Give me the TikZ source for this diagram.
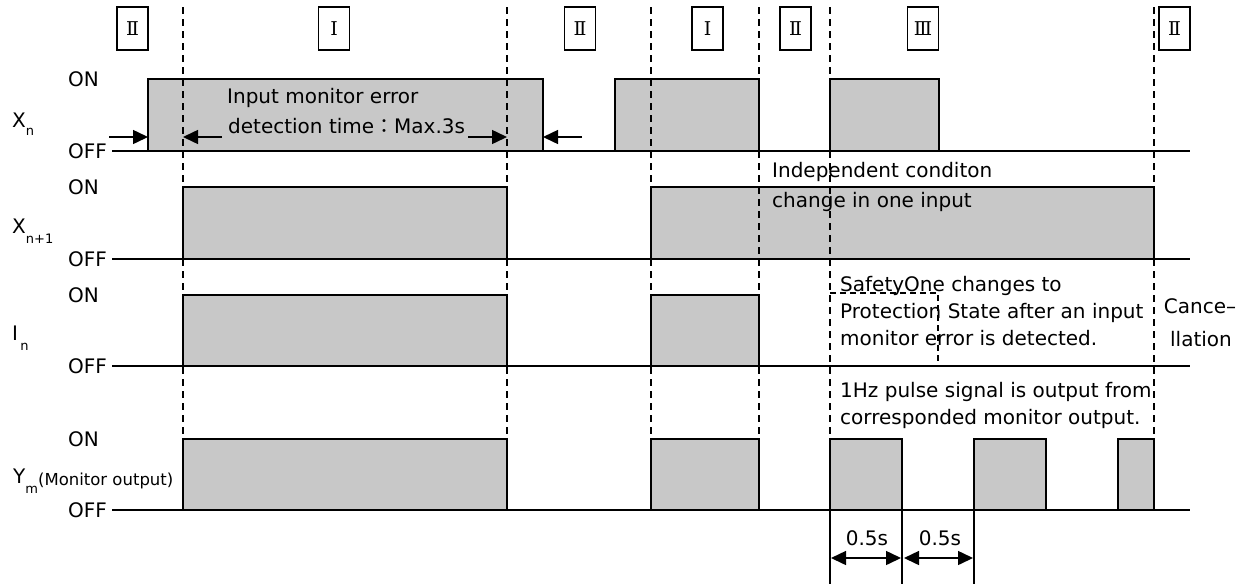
\documentclass[tikz,border=0pt]{standalone}
\usepackage{fontspec}
\setmainfont{DejaVu Sans}
\newfontfamily\cjk{Noto Sans CJK JP}
\newfontfamily\romanfont{DejaVu Serif}
\usetikzlibrary{arrows.meta}
\definecolor{pulsefill}{RGB}{200,200,200}
\begin{document}
\begin{tikzpicture}[x=1pt,y=-1pt,
  pulse/.style={draw=black,line width=1.8pt,fill=pulsefill},
  baseln/.style={line width=1.5pt},
  guide/.style={line width=1.5pt,dash pattern=on 7pt off 5pt},
  thinline/.style={line width=1.3pt},
  lbl/.style={font=\fontsize{20}{26}\selectfont,inner sep=0pt,anchor=base west},
  clbl/.style={font=\fontsize{20}{26}\selectfont,inner sep=0pt,anchor=base},
  roman/.style={draw,line width=1.2pt,minimum width=31pt,minimum height=43pt,inner sep=0pt,font=\romanfont\fontsize{19}{20}\selectfont},
  arr/.style={line width=1.5pt,-{Triangle[length=15pt,width=14pt]}},
  darr/.style={line width=1.5pt,{Triangle[length=15pt,width=14pt]}-{Triangle[length=15pt,width=14pt]}}
  ]
\useasboundingbox (0,0) rectangle (1249,584);

% roman numeral boxes
\node[roman] (r1) at (132.5,28.5) {Ⅱ};
\node[roman] (r2) at (334,28.5) {Ⅰ};
\node[roman] (r3) at (580,28.5) {Ⅱ};
\node[roman] (r4) at (707.5,28.5) {Ⅰ};
\node[roman] (r5) at (795.5,28.5) {Ⅱ};
\node[roman] (r6) at (923,28.5) {Ⅲ};
\node[roman] (r7) at (1174.5,28.5) {Ⅱ};

% baselines
\draw[baseln] (112,151) -- (1190,151);
\draw[baseln] (112,259) -- (1190,259);
\draw[baseln] (112,366) -- (1190,366);
\draw[baseln] (112,510) -- (1190,510);

% Xn pulses
\draw[pulse] (148,79) rectangle (543,151);
\draw[pulse] (615,79) rectangle (759,151);
\draw[pulse] (830,79) rectangle (939,151);
% Xn+1 pulses
\draw[pulse] (183,187) rectangle (507,259);
\draw[pulse] (651,187) rectangle (1154,259);
% In pulses
\draw[pulse] (183,295) rectangle (507,366);
\draw[pulse] (651,295) rectangle (759,366);
% Ym pulses
\draw[pulse] (183,439) rectangle (507,510);
\draw[pulse] (651,439) rectangle (759,510);
\draw[pulse] (830,439) rectangle (902,510);
\draw[pulse] (974,439) rectangle (1046,510);
\draw[pulse] (1118,439) rectangle (1154,510);

% dashed guides
\foreach \gx in {183,507,651,759,830,1154}
  \draw[guide] (\gx,7) -- (\gx,510);

% dashed box
\draw[line width=1.2pt,dash pattern=on 6pt off 4pt] (830,293) -- (938,293) -- (938,366);

% timing verticals
\draw[thinline] (830,510) -- (830,584);
\draw[thinline] (902,510) -- (902,584);
\draw[thinline] (974,510) -- (974,584);

% arrows
\coordinate (a1s) at (109,137); \coordinate (a1e) at (148,137);
\coordinate (a2s) at (222,137); \coordinate (a2e) at (183,137);
\coordinate (a3s) at (468,137); \coordinate (a3e) at (507,137);
\coordinate (a4s) at (582,137); \coordinate (a4e) at (543,137);
\draw[arr] (a1s) -- (a1e);
\draw[arr] (a2s) -- (a2e);
\draw[arr] (a3s) -- (a3e);
\draw[arr] (a4s) -- (a4e);
\coordinate (d1s) at (831,558); \coordinate (d1e) at (901,558);
\coordinate (d2s) at (904,558); \coordinate (d2e) at (973,558);
\draw[darr] (d1s) -- (d1e);
\draw[darr] (d2s) -- (d2e);
\node[clbl] (t05a) at (867,545) {0.5s};
\node[clbl] (t05b) at (940,545) {0.5s};

% ON / OFF labels
\node[lbl] (on1) at (68,86) {ON};
\node[lbl] (off1) at (68,158) {OFF};
\node[lbl] (on2) at (68,194) {ON};
\node[lbl] (off2) at (68,266) {OFF};
\node[lbl] (on3) at (68,302) {ON};
\node[lbl] (off3) at (68,373) {OFF};
\node[lbl] (on4) at (68,446) {ON};
\node[lbl] (off4) at (68,517) {OFF};

% signal names
\node[lbl] (xn) at (12,127) {X\raisebox{-8pt}{\fontsize{13}{13}\selectfont n}};
\node[lbl] (xn1) at (12,233) {X\raisebox{-10pt}{\fontsize{13}{13}\selectfont n+1}};
\node[lbl] (in) at (12,340) {I\raisebox{-10pt}{\fontsize{13}{13}\selectfont\,n}};
\node[lbl] (ym) at (13,483) {Y\raisebox{-10pt}{\fontsize{13}{13}\selectfont m}\raisebox{-2pt}{\fontsize{16.5}{17}\selectfont(Monitor output)}};

% annotations
\node[lbl] (t1) at (227,103) {Input monitor error};
\node[lbl] (t2) at (228,133) {detection time{\cjk ：}Max.3s};
\node[lbl] (t3) at (772,177) {Independent conditon};
\node[lbl] (t4) at (772,207) {change in one input};
\node[lbl] (t5) at (840,291) {SafetyOne changes to};
\node[lbl] (t6) at (840,318) {Protection State after an input};
\node[lbl] (t7) at (840,345) {monitor error is detected.};
\node[clbl] (t8) at (1200,313) {Cance–};
\node[clbl] (t9) at (1201,346) {llation};
\node[lbl] (t10) at (840,397) {1Hz pulse signal is output from};
\node[lbl] (t11) at (840,424) {corresponded monitor output.};
\end{tikzpicture}
\end{document}
